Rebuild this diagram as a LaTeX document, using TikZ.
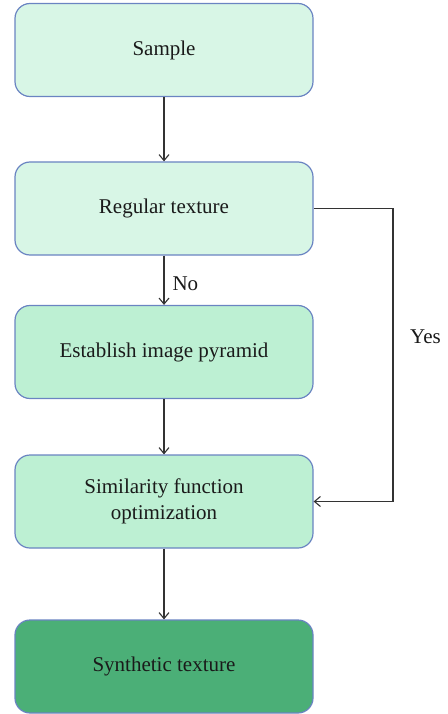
\documentclass[tikz,border=0pt]{standalone}
\usepackage{fontspec}
\setmainfont{Liberation Serif}
\usetikzlibrary{arrows.meta}
\definecolor{boxline}{HTML}{6A84C2}
\definecolor{paleA}{HTML}{D8F6E6}
\definecolor{paleB}{HTML}{BDF0D3}
\definecolor{deep}{HTML}{4BAF77}
\definecolor{wire}{HTML}{333333}
\definecolor{ink}{HTML}{1A1A1A}
\tikzset{
  stepbox/.style={draw=boxline, line width=1.2pt, rounded corners=15pt,
    minimum width=298pt, minimum height=93pt, inner sep=0pt, align=center,
    font=\fontsize{21}{26.5}\selectfont, text=ink},
  flow/.style={draw=wire, line width=1.1pt,
    -{Straight Barb[length=6pt,width=10pt,line width=1.1pt]}},
  tag/.style={font=\fontsize{21}{26.5}\selectfont, text=ink, inner sep=0pt}
}
\begin{document}
\begin{tikzpicture}[x=1pt,y=-1pt]
  \useasboundingbox (0,0) rectangle (447,714);
  % process boxes
  \node[stepbox, fill=paleA] (sample) at (164,50)    {Sample};
  \node[stepbox, fill=paleA] (regular) at (164,208.5) {Regular texture};
  \node[stepbox, fill=paleB] (pyramid) at (164,352)  {Establish image pyramid};
  \node[stepbox, fill=paleB] (simil) at (164,501.5)  {Similarity function\\optimization};
  \node[stepbox, fill=deep] (synth) at (164,666.5)   {Synthetic texture};
  % connectors
  \draw[flow] (sample) -- (regular);
  \draw[flow] (regular) -- node[tag, anchor=west, xshift=8pt, yshift=-3pt] {No} (pyramid);
  \draw[flow] (pyramid) -- (simil);
  \draw[flow] (simil) -- (synth);
  % bypass branch for regular textures
  \coordinate (bend) at (393,208.5);
  \draw[flow] (regular.east) -- (bend) |- (simil.east);
  \node[tag, anchor=west] (yes) at (410,337) {Yes};
\end{tikzpicture}
\end{document}
